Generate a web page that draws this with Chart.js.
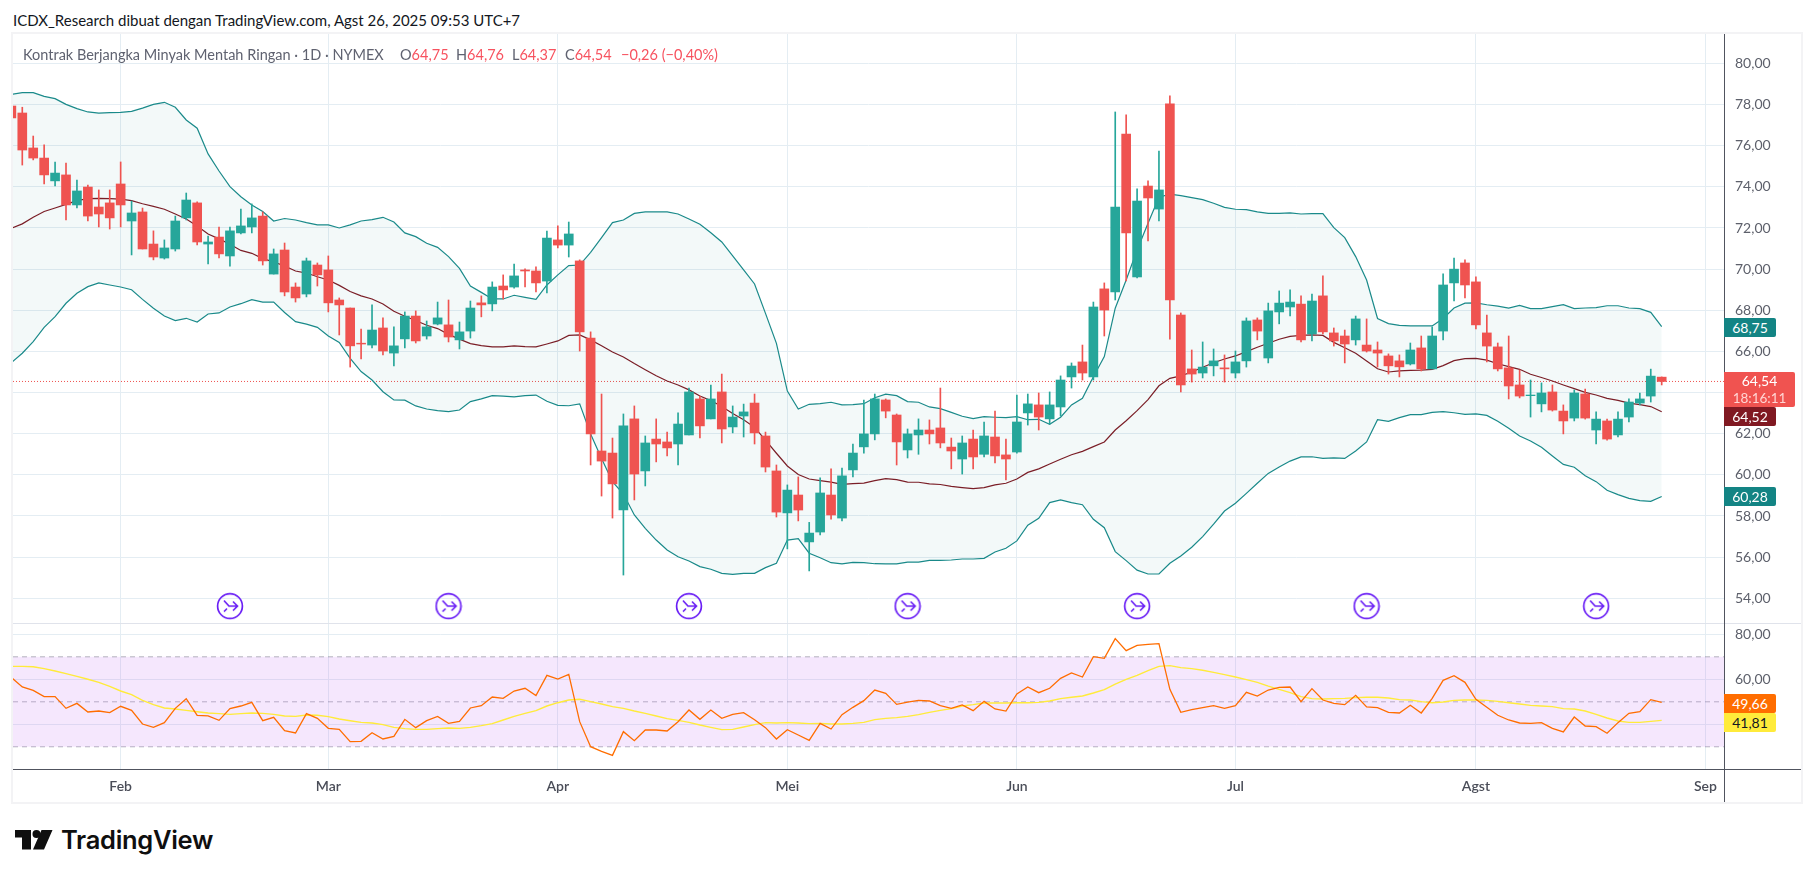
<!DOCTYPE html>
<html lang="id">
<head>
<meta charset="utf-8">
<title>Kontrak Berjangka Minyak Mentah Ringan</title>
<script src="https://cdn.jsdelivr.net/npm/chart.js@4"></script>
<style>
  html, body { margin: 0; padding: 0; background: #fff; width: 1814px; height: 878px; overflow: hidden; }
  body { font-family: Lato, "Open Sans", sans-serif; color: #131722; position: relative; }
  .abs { position: absolute; white-space: nowrap; }
  canvas { position: absolute; left: 13px; }
  #priceCanvas { top: 34px; }
  #rsiCanvas { top: 624px; }
  #frame { left: 11px; top: 32px; width: 1788px; height: 768px; border: 2px solid #f3f3f5; }
  #judul { left: 13px; top: 11px; font-size: 15px; }
  .legenda { top: 46px; font-size: 14.5px; color: #5f6270; }
  .merah { color: #f7525f; }
  .tag { left: 1724px; width: 52px; height: 19px; line-height: 19px; text-align: center; font-size: 14px; color: #fff; border-radius: 0 2px 2px 0; }
  .garis { background: #50535e; }
</style>
</head>
<body>
<div class="abs" id="judul">ICDX_Research dibuat dengan TradingView.com, Agst 26, 2025 09:53 UTC+7</div>
<div class="abs" id="frame"></div>
<canvas id="priceCanvas" width="1788" height="590"></canvas>
<canvas id="rsiCanvas" width="1788" height="178"></canvas>

<div class="abs legenda" style="left:23px">Kontrak Berjangka Minyak Mentah Ringan · 1D · NYMEX</div>
<div class="abs legenda" style="left:400px">O<span class="merah">64,75</span></div>
<div class="abs legenda" style="left:456px">H<span class="merah">64,76</span></div>
<div class="abs legenda" style="left:512px">L<span class="merah">64,37</span></div>
<div class="abs legenda" style="left:565px">C<span class="merah">64,54</span></div>
<div class="abs legenda merah" style="left:621px">−0,26 (−0,40%)</div>

<div class="abs" style="left:13px;top:623px;width:1788px;height:1px;background:#e0e3eb"></div>
<div class="abs garis" style="left:13px;top:769px;width:1788px;height:1px"></div>
<div class="abs garis" style="left:1724px;top:34px;width:1px;height:768px"></div>

<div class="abs tag" style="top:318px;background:#138484">68,75</div>
<div class="abs tag" style="top:372px;width:71px;height:35px;background:#f05350;line-height:17px">64,54<br><span style="color:#ffd5d3;font-size:13.5px">18:16:11</span></div>
<div class="abs tag" style="top:407px;background:#801922">64,52</div>
<div class="abs tag" style="top:487px;background:#138484">60,28</div>
<div class="abs tag" style="top:694px;background:#ff6d00">49,66</div>
<div class="abs tag" style="top:713px;background:#ffeb3b;color:#131722">41,81</div>

<svg class="abs" style="left:15px;top:830px" width="38" height="20" viewBox="0 0 38 20">
  <path d="M0 0H16V19.5H7V7.5H0Z M26.5 0H37.5L29 19.5H18Z" fill="#0f0f0f"/>
  <circle cx="21.5" cy="4" r="4" fill="#0f0f0f"/>
</svg>
<div class="abs" style="left:61px;top:824px;font:600 25.5px Inter,Lato,sans-serif;color:#0f0f0f;letter-spacing:-0.3px">TradingView</div>

<script>
const monthTicks = [10, 29, 50, 71, 92, 112, 134, 155]
const monthNames = ['Feb', 'Mar', 'Apr', 'Mei', 'Jun', 'Jul', 'Agst', 'Sep']
const priceTicks = [54, 56, 58, 60, 62, 64, 66, 68, 70, 72, 74, 76, 78, 80]
const rsiTicks = [40, 60, 80]
const lastClose = 64.54
const rsiBands = [70, 50, 30]
const dividendBars = [20, 40, 62, 82, 103, 124, 145]

const opens = [77.93,77.59,75.89,75.40,74.29,74.58,73.12,73.99,73.02,73.22,
  74.14,72.34,72.78,71.22,70.54,70.98,72.49,73.22,71.22,71.56,
  70.64,71.76,72.05,72.58,69.76,70.93,69.13,68.79,70.20,69.96,
  68.50,68.11,66.40,66.31,67.14,65.92,66.61,67.72,66.75,67.33,
  67.29,66.56,66.99,68.36,68.31,69.18,69.13,69.96,69.91,69.42,
  71.42,71.17,70.40,66.65,61.16,61.06,58.29,62.72,60.19,61.74,
  61.60,61.50,61.94,63.69,62.72,64.03,62.33,62.86,63.49,61.89,
  60.19,58.15,59.02,56.74,57.22,59.02,57.90,60.24,61.36,61.99,
  63.64,62.91,61.21,61.94,62.18,62.28,61.35,60.77,61.74,61.00,
  61.84,60.97,61.11,63.01,63.40,62.72,63.30,64.76,65.49,64.76,
  69.04,68.89,76.57,69.62,74.04,72.92,78.03,67.77,65.15,64.95,
  65.30,65.20,64.95,65.54,67.53,65.68,67.92,68.16,68.30,66.85,
  68.70,66.90,66.75,66.56,66.31,66.07,65.78,65.54,65.39,66.17,
  65.15,66.99,69.33,70.30,69.38,66.90,66.22,65.20,64.37,63.85,
  63.45,64.03,63.10,62.76,63.93,62.18,62.62,61.94,62.81,63.49,
  63.83,64.75]
const highs = [77.95,77.87,76.47,76.04,75.21,75.16,74.33,74.09,73.85,73.85,
  75.21,73.31,72.97,71.86,71.42,72.58,73.70,73.27,71.61,72.05,
  72.05,72.92,73.17,72.78,70.98,71.27,69.33,70.54,70.30,70.64,
  68.60,68.11,67.09,68.26,67.63,67.19,67.92,67.97,67.48,68.40,
  68.50,67.43,68.45,68.70,69.38,69.72,70.25,70.01,70.11,71.85,
  72.10,72.29,70.45,66.95,63.93,61.79,62.96,63.35,61.89,62.72,
  62.08,63.01,64.22,63.83,64.37,64.90,63.35,63.44,63.93,62.08,
  60.48,59.51,59.90,57.69,59.85,60.29,60.33,61.50,63.64,63.93,
  63.69,62.96,62.23,62.72,62.67,64.22,61.79,61.89,62.18,62.57,
  63.10,61.74,63.88,63.93,63.98,64.03,64.81,65.44,66.31,68.40,
  69.33,77.64,77.50,73.90,74.29,75.74,78.42,67.87,66.07,66.46,
  66.12,65.83,66.02,67.63,67.63,68.35,68.94,68.99,68.70,68.79,
  69.67,67.14,67.04,67.72,67.58,66.46,65.88,65.83,66.41,66.75,
  67.19,69.77,70.54,70.45,69.62,67.77,66.41,66.75,65.10,64.61,
  64.47,64.37,63.40,64.13,64.17,63.06,62.71,63.06,63.69,63.98,
  65.14,64.76]
const lows = [77.30,75.06,75.31,74.14,74.04,72.39,72.97,72.34,72.05,71.95,
  72.05,70.69,70.98,70.45,70.49,70.88,72.39,71.18,70.25,70.54,
  70.15,71.71,71.76,70.20,69.76,68.70,68.40,68.65,69.18,67.92,
  66.80,65.24,65.63,66.17,65.83,65.29,66.17,66.41,66.60,67.29,
  66.46,66.12,66.65,67.68,67.97,68.55,69.08,69.13,68.89,68.84,
  71.03,70.59,66.02,60.48,58.97,57.90,55.13,58.78,59.46,60.63,
  60.92,60.48,61.94,61.79,62.72,61.55,62.04,61.84,61.50,60.14,
  57.95,56.40,57.76,55.33,57.08,57.85,57.76,59.90,61.06,61.70,
  62.77,60.48,60.82,61.00,61.50,61.31,60.29,60.04,60.29,60.87,
  60.58,59.75,61.06,62.42,62.18,62.47,62.86,64.22,64.61,64.61,
  66.75,68.50,69.43,69.57,71.37,72.34,66.60,64.03,64.51,64.71,
  64.81,64.51,64.71,65.24,66.56,65.44,67.34,67.72,66.46,66.51,
  66.85,66.26,65.44,66.31,65.97,65.24,64.90,64.76,65.34,65.05,
  65.15,66.56,68.45,68.60,67.09,65.49,65.05,63.69,63.74,62.81,
  63.06,63.10,61.99,62.62,62.71,61.50,61.69,61.84,62.57,63.40,
  63.54,64.37]
const closes = [77.35,75.79,75.40,74.58,74.67,73.12,73.80,72.58,72.68,72.49,
  73.12,72.73,70.98,70.59,71.03,72.34,73.36,71.32,71.32,70.74,
  71.86,72.10,72.49,70.40,70.74,68.89,68.60,70.40,69.72,68.36,
  68.26,66.27,66.36,67.04,66.02,66.27,67.72,66.51,67.19,67.63,
  66.70,66.95,68.11,68.26,69.13,68.99,69.67,69.91,69.33,71.51,
  71.17,71.71,66.95,61.99,60.67,59.56,62.38,60.04,61.55,61.50,
  61.31,62.47,64.03,62.38,63.69,62.23,62.81,63.06,62.04,60.38,
  58.19,59.26,58.29,57.17,59.12,58.05,59.95,61.06,61.99,63.69,
  63.10,61.60,61.99,62.18,61.99,61.55,61.16,61.55,60.87,61.89,
  60.92,60.77,62.57,63.45,62.81,63.40,64.61,65.29,64.95,68.16,
  68.01,73.02,71.76,73.31,73.46,73.85,68.50,64.37,64.90,65.24,
  65.54,65.15,65.49,67.48,66.99,67.97,68.35,68.40,66.56,68.45,
  66.95,66.51,66.36,67.58,66.02,65.92,65.30,65.25,66.07,65.15,
  66.75,69.23,70.00,69.23,67.29,66.26,65.15,64.32,63.83,63.88,
  63.98,63.15,62.62,63.98,62.76,62.71,61.74,62.71,63.54,63.69,
  64.80,64.54]

const bbUpper = [78.50,78.58,78.58,78.40,78.29,78.01,77.80,77.64,77.58,77.61,
  77.62,77.67,77.83,78.01,78.11,77.87,77.25,76.85,75.60,74.77,
  74.01,73.52,73.12,72.80,72.34,72.46,72.39,72.26,72.15,72.15,
  72.00,72.15,72.34,72.41,72.52,72.29,71.76,71.58,71.26,71.06,
  70.61,70.04,69.18,68.87,68.55,68.55,68.73,68.63,68.53,69.23,
  69.72,70.17,70.20,70.82,71.53,72.26,72.39,72.71,72.78,72.78,
  72.78,72.68,72.44,72.18,71.77,71.32,70.64,69.96,69.28,67.85,
  66.39,64.07,63.20,63.43,63.46,63.53,63.40,63.41,63.46,63.75,
  63.92,63.85,63.56,63.53,63.30,63.22,63.04,62.85,62.73,62.83,
  62.80,62.78,62.83,62.68,62.70,62.46,62.80,63.40,63.72,64.77,
  65.75,68.10,69.47,70.93,72.23,73.49,73.65,73.57,73.48,73.38,
  73.20,73.00,72.91,72.89,72.78,72.71,72.71,72.73,72.68,72.70,
  72.70,72.02,71.53,70.61,69.47,67.60,67.35,67.27,67.24,67.24,
  67.24,67.60,68.11,68.35,68.36,68.27,68.20,68.11,68.24,68.08,
  68.08,68.18,68.27,68.08,68.11,68.13,68.22,68.22,68.11,68.08,
  67.90,67.20]
const bbBasis = [71.98,72.20,72.52,72.80,72.97,73.15,73.33,73.43,73.44,73.43,
  73.40,73.33,73.18,73.05,72.91,72.68,72.44,72.10,71.71,71.47,
  71.21,70.91,70.77,70.51,70.35,70.15,69.91,69.81,69.63,69.47,
  69.21,68.91,68.70,68.55,68.31,67.95,67.71,67.50,67.27,67.11,
  66.83,66.60,66.38,66.28,66.22,66.22,66.27,66.23,66.22,66.36,
  66.51,66.78,66.80,66.56,66.28,65.97,65.73,65.41,65.11,64.82,
  64.56,64.37,64.13,63.83,63.61,63.32,62.98,62.68,62.31,61.69,
  61.05,60.43,60.02,59.80,59.72,59.65,59.54,59.57,59.60,59.72,
  59.82,59.77,59.65,59.64,59.56,59.53,59.44,59.38,59.33,59.38,
  59.51,59.59,59.80,60.12,60.29,60.53,60.76,60.98,61.14,61.37,
  61.60,62.18,62.63,63.12,63.66,64.33,64.69,64.81,65.00,65.23,
  65.45,65.63,65.78,65.99,66.20,66.40,66.59,66.73,66.78,66.80,
  66.78,66.44,66.18,65.91,65.53,65.16,65.00,65.05,65.08,65.09,
  65.13,65.31,65.55,65.65,65.66,65.58,65.40,65.26,65.13,64.89,
  64.73,64.56,64.37,64.19,64.01,63.88,63.72,63.62,63.49,63.41,
  63.32,63.07]
const bbLower = [65.45,65.91,66.48,67.17,67.69,68.34,68.83,69.15,69.33,69.23,
  69.13,69.00,68.53,68.10,67.72,67.50,67.61,67.43,67.82,67.87,
  68.16,68.32,68.52,68.40,68.40,67.89,67.45,67.33,67.17,66.75,
  66.44,65.66,65.02,64.61,64.04,63.64,63.63,63.35,63.20,63.12,
  63.07,63.15,63.56,63.69,63.85,63.83,63.79,63.85,63.88,63.58,
  63.38,63.36,63.45,61.99,60.80,59.67,59.07,58.05,57.40,56.83,
  56.35,56.02,55.81,55.54,55.41,55.21,55.16,55.21,55.21,55.49,
  55.70,56.83,56.90,56.19,55.97,55.73,55.67,55.75,55.73,55.68,
  55.67,55.67,55.76,55.76,55.84,55.84,55.86,55.91,55.91,55.94,
  56.25,56.43,56.79,57.55,57.89,58.65,58.78,58.65,58.55,57.84,
  57.43,56.27,55.83,55.37,55.18,55.18,55.70,56.06,56.48,57.00,
  57.60,58.24,58.62,59.10,59.59,60.07,60.38,60.67,60.87,60.88,
  60.80,60.83,60.80,61.16,61.60,62.68,62.60,62.78,62.93,62.93,
  63.04,63.07,63.02,62.94,62.96,62.89,62.61,62.26,61.89,61.65,
  61.34,60.92,60.51,60.37,59.96,59.67,59.25,59.04,58.86,58.75,
  58.71,58.95]

const rsiValues = [60.87,56.58,55.10,52.28,52.28,47.10,49.30,45.47,45.90,45.17,
  48.00,46.20,40.13,38.65,40.70,47.10,51.40,44.00,43.70,41.76,
  46.95,48.13,49.76,41.60,43.10,37.17,36.13,44.73,42.65,38.20,
  37.76,32.30,32.43,36.28,33.47,34.65,42.20,38.50,41.60,43.50,
  40.43,41.30,47.25,48.28,52.13,51.54,54.80,56.00,52.73,61.76,
  60.13,62.20,41.17,30.06,28.00,26.20,36.73,32.73,37.47,37.47,
  37.02,41.17,46.36,42.20,46.36,42.65,44.43,45.17,42.06,38.50,
  33.47,37.62,35.24,32.87,40.43,37.90,44.28,47.54,50.50,55.24,
  53.76,48.87,49.90,50.65,50.35,48.28,47.10,48.58,46.06,50.20,
  46.80,45.90,53.47,56.58,54.06,56.00,60.43,62.80,61.02,70.06,
  69.32,78.06,72.73,75.10,75.54,75.84,55.54,45.32,46.50,47.40,
  48.28,47.10,48.28,54.20,52.58,55.24,56.43,56.58,50.06,55.84,
  50.80,49.30,48.73,52.87,47.70,47.40,45.32,45.02,48.43,45.02,
  51.54,59.54,61.60,58.65,51.10,47.54,44.00,41.91,40.58,40.43,
  40.73,38.20,36.58,43.24,39.24,38.95,36.00,40.73,44.87,45.61,
  50.95,49.76]
const rsiAverage = [65.76,65.76,65.60,64.73,63.70,62.50,61.32,60.00,58.65,56.87,
  54.80,53.17,50.65,48.73,47.24,46.80,46.20,45.60,45.00,44.73,
  44.43,44.73,45.00,44.87,44.43,43.70,43.54,44.13,44.00,43.40,
  42.36,41.60,40.87,40.58,39.84,38.65,38.06,37.76,37.76,38.06,
  38.36,38.20,38.65,39.40,40.28,41.91,43.54,44.87,46.06,48.13,
  49.60,50.80,51.10,50.06,49.00,47.84,47.10,45.90,44.87,43.70,
  42.50,41.76,40.87,39.70,38.65,37.62,37.76,38.80,39.84,40.73,
  40.58,40.73,40.58,40.28,40.43,40.13,40.13,40.43,40.87,42.06,
  42.65,42.95,43.54,44.28,45.32,46.20,46.95,48.13,48.73,49.47,
  49.47,49.47,49.60,49.60,49.76,50.35,51.40,52.00,52.58,53.90,
  55.40,57.90,60.00,61.76,63.84,65.76,66.06,65.17,64.73,64.00,
  63.10,62.06,61.02,59.84,58.65,57.00,55.54,54.06,52.28,51.40,
  51.24,51.40,51.54,51.84,52.00,52.00,51.70,50.95,50.80,50.06,
  49.60,49.90,50.65,50.80,50.80,50.65,50.20,49.60,49.00,48.43,
  48.13,47.84,46.95,46.80,45.90,44.43,42.80,41.47,40.87,40.87,
  41.30,41.76]

const xMin = 0.15, xMax = 156.7
const fontFamily = 'Lato, "Open Sans", sans-serif'
const red = '#ef5350', green = '#26a69a', teal = '#1a8a8a', basisColor = '#801922'
const gridColor = '#e4edf3'

const candleColors = closes.map((c, i) => c < opens[i] ? red : green)
const toPoints = arr => arr.map((v, i) => ({x: i, y: v}))
const flatLine = v => [{x: xMin, y: v}, {x: xMax, y: v}]

// little purple dividend icon, used as point style
function makeIcon() {
  const c = document.createElement('canvas')
  c.width = 28; c.height = 28
  const g = c.getContext('2d')
  g.strokeStyle = '#6a1ff5'
  g.lineWidth = 1.7
  g.beginPath(); g.arc(14, 14, 12.4, 0, Math.PI * 2); g.stroke()
  g.beginPath()
  g.moveTo(8, 8.5); g.lineTo(13, 14); g.lineTo(21, 14)
  g.moveTo(17, 9.5); g.lineTo(21.5, 14); g.lineTo(17, 18.5)
  g.moveTo(8, 19.5); g.lineTo(11, 16.5)
  g.stroke()
  return c
}

// scales keep their labels but must not push the plot area in
const noPad = s => { s.paddingTop = 0; s.paddingBottom = 0; s.paddingLeft = 0; s.paddingRight = 0 }

const xScale = (showLabels, h) => ({
  type: 'linear', min: xMin, max: xMax, offset: false,
  afterBuildTicks: s => { s.ticks = monthTicks.map(v => ({value: v})) },
  afterFit: s => { s.height = h; noPad(s) },
  grid: {color: gridColor, drawTicks: false, offset: false},
  border: {display: false},
  ticks: {
    display: showLabels, autoSkip: false, maxRotation: 0, padding: 9,
    color: '#4a4d58',
    font: {family: fontFamily, size: 14, weight: '600'},
    callback: v => monthNames[monthTicks.indexOf(v)]
  }
})

const yScale = (min, max, values, label) => ({
  type: 'linear', position: 'right', min: min, max: max,
  afterBuildTicks: s => { s.ticks = values.map(v => ({value: v})) },
  afterFit: s => { s.width = 77; noPad(s) },
  grid: {color: gridColor, drawTicks: false},
  border: {display: false},
  ticks: {
    autoSkip: false, padding: 11, color: '#5d606b',
    font: {family: fontFamily, size: 14},
    callback: label
  }
})

const twoDec = v => v.toFixed(2).replace('.', ',')

new Chart(document.getElementById('priceCanvas'), {
  type: 'bar',
  data: {
    datasets: [
      {type: 'bar', data: opens.map((o, i) => ({x: i, y: [Math.min(o, closes[i]), Math.max(o, closes[i])]})),
        backgroundColor: candleColors, barThickness: 9, grouped: false, order: 1},
      {type: 'bar', data: lows.map((l, i) => ({x: i, y: [l, highs[i]]})),
        backgroundColor: candleColors, barThickness: 1, grouped: false, order: 2},
      {type: 'line', data: toPoints(bbUpper), borderColor: teal, borderWidth: 1.2, pointRadius: 0,
        fill: {target: 3}, backgroundColor: 'rgba(19,132,132,0.05)', order: 3},
      {type: 'line', data: toPoints(bbLower), borderColor: teal, borderWidth: 1.2, pointRadius: 0, order: 3},
      {type: 'line', data: toPoints(bbBasis), borderColor: basisColor, borderWidth: 1.2, pointRadius: 0, order: 3},
      {type: 'line', data: flatLine(lastClose), borderColor: '#ef5350', borderWidth: 1, borderDash: [1, 2],
        pointRadius: 0, order: 4},
      {type: 'scatter', data: dividendBars.map(i => ({x: i, y: 53.62})), pointStyle: makeIcon(), pointRadius: 14, order: 0}
    ]
  },
  options: {
    responsive: false, animation: false, events: [],
    layout: {padding: 0, autoPadding: false},
    plugins: {legend: {display: false}, tooltip: {enabled: false}},
    scales: {
      x: xScale(false, 0),
      y: yScale(52.75, 81.43, priceTicks, twoDec)
    }
  }
})

new Chart(document.getElementById('rsiCanvas'), {
  type: 'line',
  data: {
    datasets: [
      {data: flatLine(rsiBands[0]), borderColor: 'rgba(120,123,134,0.55)', borderWidth: 1, borderDash: [5, 4],
        pointRadius: 0, fill: {target: 2}, backgroundColor: 'rgba(188,95,242,0.15)', order: 3},
      {data: flatLine(rsiBands[1]), borderColor: 'rgba(120,123,134,0.55)', borderWidth: 1, borderDash: [5, 4],
        pointRadius: 0, order: 3},
      {data: flatLine(rsiBands[2]), borderColor: 'rgba(120,123,134,0.55)', borderWidth: 1, borderDash: [5, 4],
        pointRadius: 0, order: 3},
      {data: toPoints(rsiAverage), borderColor: '#ffeb3b', borderWidth: 1.4, pointRadius: 0, order: 2},
      {data: toPoints(rsiValues), borderColor: '#ff6d00', borderWidth: 1.3, pointRadius: 0, order: 1}
    ]
  },
  options: {
    responsive: false, animation: false, events: [],
    layout: {padding: 0, autoPadding: false},
    plugins: {legend: {display: false}, tooltip: {enabled: false}},
    scales: {
      x: xScale(true, 33),
      y: yScale(20.13, 84.58, rsiTicks, v => v === 40 ? '' : twoDec(v))
    }
  }
})
</script>
</body>
</html>
